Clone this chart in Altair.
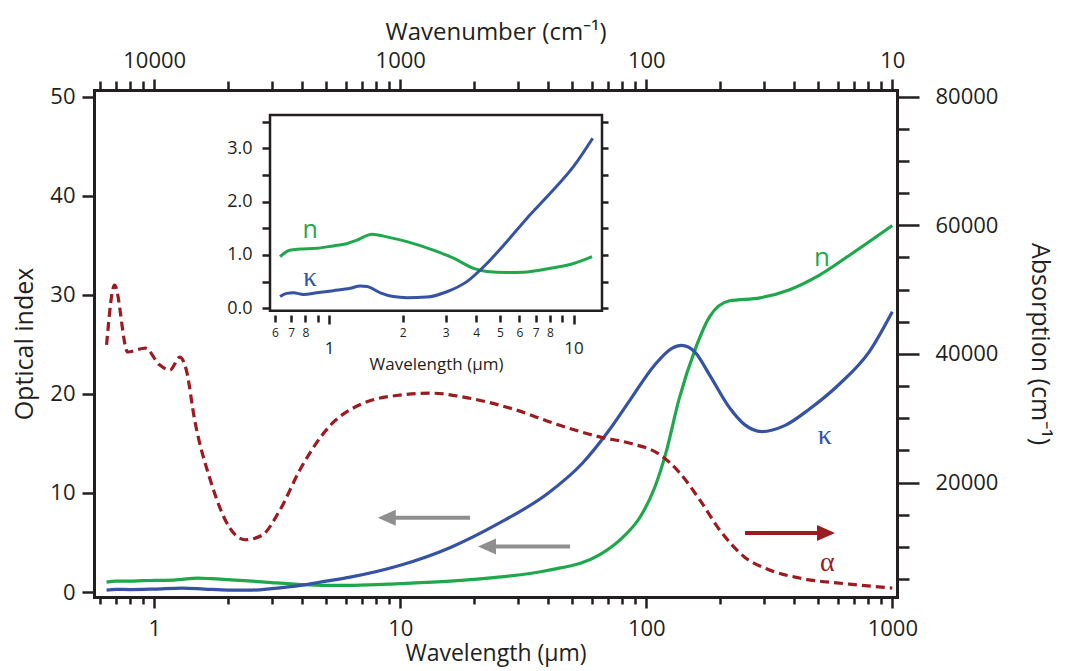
import altair as alt
import pandas as pd

# ---------------- data ----------------
# main panel: optical index n (left axis)
lam_n = [0.64, 0.7, 0.8, 0.9, 1.0, 1.2, 1.3, 1.5, 1.7, 2.0, 2.5, 3.0, 4.0, 5.0, 6.5,
         10, 16, 25, 40, 65, 80, 94, 108, 120, 136, 158, 181, 218, 290, 380, 506, 670, 1000]
n_main = [1.0, 1.1, 1.1, 1.15, 1.17, 1.2, 1.28, 1.4, 1.35, 1.25, 1.1, 0.95, 0.75, 0.68, 0.68,
          0.85, 1.1, 1.5, 2.2, 3.8, 5.5, 7.5, 10.5, 14.0, 19.5, 24.5, 27.8, 29.4, 29.7, 30.5, 32.0, 34.0, 37.0]

# main panel: optical index kappa (left axis)
lam_k = [0.64, 0.7, 0.8, 1.0, 1.3, 1.6, 2.0, 2.5, 3.0, 4.0, 5.0, 6.25, 10, 16, 25, 40, 55, 70,
         86, 108, 127, 139, 158, 181, 218, 251, 295, 365, 462, 610, 808, 1000]
k_main = [0.2, 0.27, 0.25, 0.3, 0.4, 0.3, 0.2, 0.2, 0.35, 0.7, 1.1, 1.5, 2.7, 4.5, 6.9, 10.0, 13.0, 16.2,
          19.4, 22.9, 24.6, 24.9, 24.2, 21.9, 18.6, 16.9, 16.2, 16.8, 18.5, 21.0, 24.3, 28.3]

# main panel: absorption alpha in cm^-1 (right axis)
lam_a = [0.64, 0.69, 0.78, 0.92, 1.05, 1.16, 1.27, 1.35, 1.46, 1.69, 2.03, 2.34, 2.74, 3.24, 3.9,
         5.2, 6.85, 9.96, 13.2, 19.2, 27.8, 44.5, 64.6, 86, 114, 136, 165, 199, 251, 317, 420, 670, 1000]
alpha = [41400, 50700, 40300, 40900, 38300, 37500, 39500, 37500, 29700, 20400, 12900, 11100, 11800,
         15700, 21900, 28900, 32100, 33600, 33900, 33100, 31600, 28900, 27100, 26100, 24300, 21600,
         17300, 12600, 8400, 6400, 5150, 4200, 3600]

# inset: n and kappa in the 0.6-13 um range
lam_n_in = [0.63, 0.69, 0.76, 0.89, 1.04, 1.18, 1.3, 1.5, 1.72, 2.08, 2.67, 3.23, 3.9, 4.42,
            5.33, 6.23, 8.04, 10.0, 11.9]
n_in = [0.97, 1.09, 1.11, 1.125, 1.17, 1.21, 1.28, 1.39, 1.34, 1.25, 1.09, 0.94, 0.75, 0.69,
        0.67, 0.675, 0.75, 0.84, 0.97]
lam_k_in = [0.63, 0.67, 0.715, 0.785, 0.89, 1.04, 1.22, 1.34, 1.43, 1.62, 1.83, 2.08, 2.51,
            3.03, 3.66, 4.42, 5.33, 6.45, 8.04, 10.0, 11.97]
k_in = [0.22, 0.28, 0.29, 0.26, 0.29, 0.33, 0.375, 0.42, 0.41, 0.29, 0.22, 0.20, 0.21,
        0.31, 0.50, 0.84, 1.25, 1.69, 2.16, 2.66, 3.19]

# tick values
main_x_ticks = [0.6, 0.7, 0.8, 0.9, 1, 2, 3, 4, 5, 6, 7, 8, 9, 10, 20, 30, 40, 50, 60, 70, 80, 90,
                100, 200, 300, 400, 500, 600, 700, 800, 900, 1000]
left_ticks = [0, 10, 20, 30, 40, 50]
right_ticks = [5000, 10000, 15000, 20000, 25000, 30000, 35000, 40000, 45000, 50000, 55000,
               60000, 65000, 70000, 75000, 80000]
inset_x_ticks = [0.6, 0.7, 0.8, 0.9, 1, 2, 3, 4, 5, 6, 7, 8, 9, 10]
inset_y_ticks = [0, 0.5, 1.0, 1.5, 2.0, 2.5, 3.0, 3.5]

# annotation arrows (wavelength, level)
gray_tail = [19.2, 49.0]
gray_shaft = [8.9, 22.7]
gray_tip = [8.1, 20.7]
gray_level = [7.5, 4.6]
red_tail = [252]
red_shaft = [533]
red_tip = [585]
red_level = [12150]

# ---------------- styling ----------------
AX = "#231f20"
GREEN = "#1ea84b"
BLUE = "#3552a4"
RED = "#9b1b20"
GRAY = "#8f8f8f"
FONT = "Open Sans"
GREEK = "Liberation Serif"
DEC = "abs(log(datum.value)/LN10 - round(log(datum.value)/LN10)) < 0.001"
MAJ20 = "datum.value % 20000 === 0"
HEAD_L = "M0,0 L1,-0.45 L1,0.45 Z"
HEAD_R = "M0,0 L-1,-0.45 L-1,0.45 Z"


def cond(test, a, b):
    return {"condition": {"test": test, "value": a}, "value": b}


common = dict(domainColor=AX, tickColor=AX, labelColor=AX, titleColor=AX, labelFont=FONT,
              titleFont=FONT, titleFontWeight="normal", grid=False, labelOverlap=False, zindex=1)

ax_bottom = alt.Axis(orient="bottom", values=main_x_ticks, title="Wavelength (µm)",
                     labelExpr=f"({DEC}) ? format(datum.value, 'd') : ''",
                     tickSize=cond(DEC, 11, 7), tickWidth=2.5, domainWidth=3, domainCap="square",
                     labelFontSize=22, labelPadding=10, titleFontSize=23, titlePadding=3,
                     labelFlush=False, **common)
ax_top = alt.Axis(orient="top", values=main_x_ticks, title="Wavenumber (cm⁻¹)",
                  labelExpr=f"({DEC}) ? format(10000/datum.value, 'd') : ''",
                  tickSize=cond(DEC, 11, 9), tickWidth=2.5, domainWidth=3, domainCap="square",
                  labelFontSize=22, labelPadding=7, titleFontSize=24, titlePadding=5,
                  labelFlush=False, **common)
ax_left = alt.Axis(orient="left", values=left_ticks, title="Optical index", tickSize=12,
                   tickWidth=2.5, domainWidth=3, domainCap="square", labelFontSize=22,
                   labelPadding=7, titleFontSize=25, titlePadding=12, **common)
ax_right = alt.Axis(orient="right", values=right_ticks, title="Absorption (cm⁻¹)",
                    labelExpr=f"({MAJ20}) ? format(datum.value, 'd') : ''",
                    tickSize=cond(MAJ20, 22, 12), tickWidth=2.5, domainWidth=3, domainCap="square",
                    labelFontSize=22, labelPadding=16, titleFontSize=25, titlePadding=29, **common)

ax_in_bottom = alt.Axis(orient="bottom", offset=-282, values=inset_x_ticks, domain=False,
                        title="Wavelength (µm)",
                        labelExpr=(f"({DEC}) ? format(datum.value, 'd') : "
                                   "(round(datum.value*10) == 9 || round(datum.value) == 9) ? '' : "
                                   "format(datum.value < 1 ? datum.value*10 : datum.value, '.0f')"),
                        tickSize=cond(DEC, 9, 7), tickWidth=2.5, labelFontSize=cond(DEC, 17, 12),
                        labelPadding=cond(DEC, 16, 5), titleFontSize=17, titlePadding=0,
                        labelFlush=False, **common)
ax_in_left = alt.Axis(orient="left", offset=-176, values=inset_y_ticks, domain=False, title=None,
                      labelExpr="datum.value % 1 === 0 ? format(datum.value, '.1f') : ''",
                      tickSize=8, tickWidth=2.5, labelFontSize=18, labelPadding=10, **common)
ax_in_right = alt.Axis(orient="right", offset=-295, values=inset_y_ticks, domain=False, title=None,
                       labels=False, tickSize=6, tickWidth=2.5, **common)

# ---------------- scales ----------------
xs_main = alt.Scale(type="log", domain=[0.569, 1045], nice=False)
ys_left = alt.Scale(domain=[-0.5, 50.68], nice=False, zero=False)
ys_right = alt.Scale(domain=[2200, 81040], nice=False, zero=False)
xs_in = alt.Scale(type="log", domain=[0.573, 13.07], range=[176, 508], nice=False)
ys_in = alt.Scale(domain=[-0.045, 3.625], range=[220.7, 25], nice=False, zero=False)

# ---------------- layer A: n, kappa (bottom / left axes) ----------------
df_n = pd.DataFrame({"lam": lam_n, "v": n_main})
df_k = pd.DataFrame({"lam": lam_k, "v": k_main})
gray_df = pd.DataFrame({"tail": gray_tail, "shaft": gray_shaft, "tip": gray_tip, "lvl": gray_level})


def xa(f):
    return alt.X(f"{f}:Q", scale=xs_main, axis=ax_bottom)


def ya(f):
    return alt.Y(f"{f}:Q", scale=ys_left, axis=ax_left)


A = alt.layer(
    alt.Chart(df_n).mark_line(color=GREEN, strokeWidth=3.2, interpolate="monotone").encode(x=xa("lam"), y=ya("v")),
    alt.Chart(df_k).mark_line(color=BLUE, strokeWidth=3.2, interpolate="monotone").encode(x=xa("lam"), y=ya("v")),
    alt.Chart(gray_df).mark_rule(color=GRAY, strokeWidth=4).encode(x=xa("tail"), x2="shaft:Q", y=ya("lvl")),
    alt.Chart(gray_df).mark_point(shape=HEAD_L, filled=True, size=1296, color=GRAY, opacity=1,
                                  strokeWidth=0).encode(x=xa("tip"), y=ya("lvl")),
    alt.Chart(pd.DataFrame({"lam": [518], "v": [33.7]})).mark_text(
        text="n", font=FONT, fontSize=26, color=GREEN).encode(x=xa("lam"), y=ya("v")),
    alt.Chart(pd.DataFrame({"lam": [532], "v": [15.75]})).mark_text(
        text="κ", font=GREEK, fontSize=28, color=BLUE).encode(x=xa("lam"), y=ya("v")),
)

# ---------------- layer B: alpha (top / right axes) ----------------
df_a = pd.DataFrame({"lam": lam_a, "a": alpha})
red_df = pd.DataFrame({"tail": red_tail, "shaft": red_shaft, "tip": red_tip, "lvl": red_level})


def xb(f):
    return alt.X(f"{f}:Q", scale=xs_main, axis=ax_top)


def yb(f):
    return alt.Y(f"{f}:Q", scale=ys_right, axis=ax_right)


B = alt.layer(
    alt.Chart(df_a).mark_line(color=RED, strokeWidth=3.2, strokeDash=[9, 5], interpolate="monotone").encode(
        x=xb("lam"), y=yb("a")),
    alt.Chart(red_df).mark_rule(color=RED, strokeWidth=4).encode(x=xb("tail"), x2="shaft:Q", y=yb("lvl")),
    alt.Chart(red_df).mark_point(shape=HEAD_R, filled=True, size=1296, color=RED, opacity=1,
                                 strokeWidth=0).encode(x=xb("tip"), y=yb("lvl")),
    alt.Chart(pd.DataFrame({"lam": [544], "a": [7481]})).mark_text(
        text="α", font=GREEK, fontSize=28, color=RED).encode(x=xb("lam"), y=yb("a")),
)

# ---------------- layer D: inset frame (right ticks) ----------------
frame_df = pd.DataFrame({"x0": [0.573], "x1": [13.07], "y0": [-0.045], "y1": [3.625]})
D = alt.Chart(frame_df).mark_rect(fill="white", stroke=AX, strokeWidth=2.5).encode(
    x=alt.X("x0:Q", scale=xs_in, axis=None), x2="x1:Q",
    y=alt.Y("y0:Q", scale=ys_in, axis=ax_in_right), y2="y1:Q")

# ---------------- layer C: inset curves ----------------
df_n_in = pd.DataFrame({"lam": lam_n_in, "v": n_in})
df_k_in = pd.DataFrame({"lam": lam_k_in, "v": k_in})


def xc(f):
    return alt.X(f"{f}:Q", scale=xs_in, axis=ax_in_bottom)


def yc(f):
    return alt.Y(f"{f}:Q", scale=ys_in, axis=ax_in_left)


C = alt.layer(
    alt.Chart(df_n_in).mark_line(color=GREEN, strokeWidth=3, interpolate="monotone").encode(x=xc("lam"), y=yc("v")),
    alt.Chart(df_k_in).mark_line(color=BLUE, strokeWidth=3, interpolate="monotone").encode(x=xc("lam"), y=yc("v")),
    alt.Chart(pd.DataFrame({"lam": [0.836], "v": [1.47]})).mark_text(
        text="n", font=FONT, fontSize=25, color=GREEN).encode(x=xc("lam"), y=yc("v")),
    alt.Chart(pd.DataFrame({"lam": [0.836], "v": [0.57]})).mark_text(
        text="κ", font=GREEK, fontSize=27, color=BLUE).encode(x=xc("lam"), y=yc("v")),
)

chart = alt.layer(A, B, D, C).resolve_scale(x="independent", y="independent").properties(
    width=803, height=507,
    padding={"left": 94, "top": 90, "right": 173, "bottom": 74},
    autosize=alt.AutoSizeParams(type="none"),
).configure_view(strokeWidth=0)

chart.save("out.html", embed_options={"renderer": "svg", "actions": False})
